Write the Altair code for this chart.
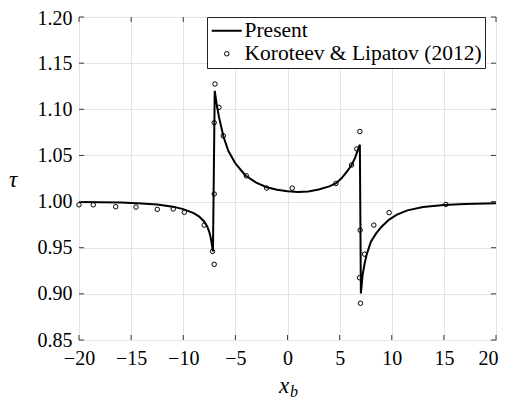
import altair as alt
import pandas as pd

# ---- data ----
line_x = [-20, -18, -16, -14, -12.5, -11, -10, -9.0, -8.5, -8.0, -7.7, -7.5, -7.35, -7.25, -7.15,
          -6.98, -6.8, -6.58, -6.16, -5.68, -5.04, -4.5, -4.0, -3.0, -2.0, -1.0, 0.0, 1.0, 2.0,
          3.0, 4.0, 4.64, 5.2, 5.7, 6.15, 6.45, 6.72, 6.94,
          7.04, 7.2, 7.4, 7.6, 8.0, 8.5, 9.0, 9.75, 10.5, 11.5, 13.0, 15.0, 17.0, 20.0]
line_y = [0.9995, 0.9993, 0.9989, 0.9980, 0.9968, 0.9945, 0.9918, 0.9875, 0.9840, 0.9785, 0.9730,
          0.9670, 0.9600, 0.9530, 0.9460,
          1.1200, 1.1060, 1.0920, 1.0710, 1.0550, 1.0420, 1.0345, 1.0280, 1.0205, 1.0155, 1.0128,
          1.0112, 1.0105, 1.0110, 1.0130, 1.0165, 1.0196, 1.0255, 1.0325, 1.0396, 1.0465, 1.0550,
          1.0616,
          0.9004, 0.9200, 0.9330, 0.9430, 0.9565, 0.9655, 0.9725, 0.9805, 0.9858, 0.9905, 0.9942,
          0.9963, 0.9974, 0.9982]

ref_x = [-20.0, -18.63, -16.48, -14.53, -12.49, -10.96, -9.9, -7.99, -7.19, -7.03, -7.03, -7.03,
         -6.96, -6.58, -6.16, -3.95, -2.0, 0.45, 4.64, 6.15, 6.65, 6.94, 6.97, 6.91, 7.0, 7.39,
         8.28, 9.75, 15.19]
ref_y = [0.9965, 0.9965, 0.9944, 0.9940, 0.9916, 0.9920, 0.9884, 0.9745, 0.9460, 0.9320, 1.0082,
         1.0855, 1.1274, 1.1021, 1.0712, 1.0279, 1.0146, 1.0146, 1.0196, 1.0396, 1.0570, 1.0759,
         0.9690, 0.9175, 0.8898, 0.9430, 0.9745, 0.9880, 0.9969]

x_ticks = [-20, -15, -10, -5, 0, 5, 10, 15, 20]
y_ticks = [0.85, 0.90, 0.95, 1.00, 1.05, 1.10, 1.15, 1.20]

PRESENT = "Present"
KORO = "Koroteev & Lipatov (2012)"

line_df = pd.DataFrame({"x": line_x, "y": line_y, "i": range(len(line_x))})
pts_df = pd.DataFrame({"x": ref_x, "y": ref_y, "series": KORO})
xt_df = pd.DataFrame({"x": x_ticks})
yt_df = pd.DataFrame({"y": y_ticks})
one = pd.DataFrame({"a": [1]})

W, H = 417, 323
FONT = "Liberation Serif"
FRAME = "#3a3a3a"
TICK = 5
LBL = 20

xs = alt.Scale(domain=[-20, 20], nice=False, zero=False)
ys = alt.Scale(domain=[0.85, 1.20], nice=False, zero=False)

x_axis = alt.Axis(values=x_ticks, grid=True, gridColor="#e3e3e3", gridWidth=1, ticks=False,
                  domain=False, labelFont=FONT, labelFontSize=LBL, labelColor="black",
                  labelPadding=8, labelFlush=False, labelOverlap=False, title=None,
                  labelAlign={"condition": {"test": "datum.value >= 20", "value": "right"},
                              "value": "center"},
                  labelOffset={"condition": {"test": "datum.value >= 20", "value": 2},
                               "value": 0})
y_axis = alt.Axis(values=y_ticks, format=".2f", grid=True, gridColor="#e3e3e3", gridWidth=1,
                  ticks=False, domain=False, labelFont=FONT, labelFontSize=LBL,
                  labelColor="black", labelPadding=7, labelOverlap=False, title=None,
                  labelOffset={"condition": {"test": "datum.value >= 1.199", "value": 1},
                               "value": 0})

X = alt.X("x:Q", scale=xs, axis=x_axis)
Y = alt.Y("y:Q", scale=ys, axis=y_axis)

line = alt.Chart(line_df).mark_line(color="black", strokeWidth=2).encode(
    x=X, y=Y, order="i:Q")

legend = alt.Legend(title=None, orient="none", legendX=128, legendY=0, fillColor="white",
                    strokeColor="#222222", padding=3, labelFont=FONT, labelFontSize=21.5,
                    labelColor="black", labelOffset=7, symbolOffset=6, rowPadding=0,
                    labelLimit=400, symbolStrokeColor="black",
                    symbolFillColor="transparent", symbolOpacity=1)
dom = [PRESENT, KORO]
points = alt.Chart(pts_df).mark_point(filled=False, color="black", opacity=1).encode(
    x=X, y=Y,
    shape=alt.Shape("series:N", scale=alt.Scale(domain=dom, range=["M-2,0H2", "circle"]),
                    legend=legend),
    size=alt.Size("series:N", scale=alt.Scale(domain=dom, range=[225, 20]), legend=legend),
    strokeWidth=alt.StrokeWidth("series:N", scale=alt.Scale(domain=dom, range=[2, 1]),
                                legend=legend),
)

tick_style = dict(color=FRAME, strokeWidth=1)
bt = alt.Chart(xt_df).mark_rule(**tick_style).encode(
    x=X, y=alt.value(H), y2=alt.value(H - TICK))
tt = alt.Chart(xt_df).mark_rule(**tick_style).encode(
    x=X, y=alt.value(0), y2=alt.value(TICK))
lt = alt.Chart(yt_df).mark_rule(**tick_style).encode(
    y=Y, x=alt.value(0), x2=alt.value(TICK))
rt = alt.Chart(yt_df).mark_rule(**tick_style).encode(
    y=Y, x=alt.value(W), x2=alt.value(W - TICK))

tau = alt.Chart(one).mark_text(text="τ", font=FONT, fontSize=23, fontStyle="italic",
                               color="black", align="center", baseline="middle").encode(
    x=alt.value(-66), y=alt.value(163))
xlab = alt.Chart(one).mark_text(text="x", font=FONT, fontSize=23, fontStyle="italic",
                                color="black", align="center", baseline="alphabetic").encode(
    x=alt.value(205), y=alt.value(376))
blab = alt.Chart(one).mark_text(text="b", font=FONT, fontSize=16, fontStyle="italic",
                                color="black", align="left", baseline="alphabetic").encode(
    x=alt.value(211), y=alt.value(380))

chart = alt.layer(line, points, bt, tt, lt, rt, tau, xlab, blab).properties(
    width=W, height=H, autosize="none",
    padding={"left": 71, "top": 9, "right": 3, "bottom": 62},
    background="white",
).configure_view(stroke=FRAME, strokeWidth=1).configure_axis(
    labelFont=FONT, labelFontSize=LBL, labelColor="black"
)

chart.save("out.html", embed_options={"renderer": "svg", "actions": False})
